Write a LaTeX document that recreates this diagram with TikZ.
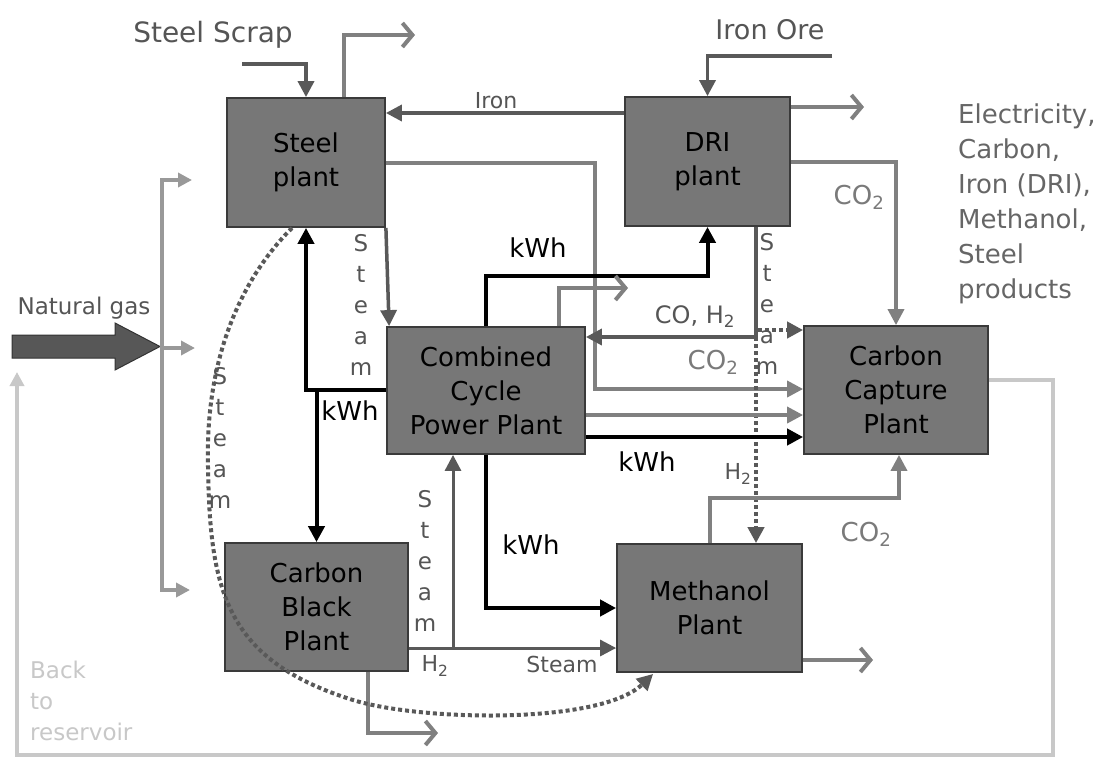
\documentclass[tikz,border=0pt]{standalone}
\usepackage{fontspec}
\setmainfont{DejaVu Sans}
\usetikzlibrary{arrows.meta,calc}
\definecolor{boxfill}{HTML}{777777}
\definecolor{boxline}{HTML}{3A3A3A}
\definecolor{lndk}{HTML}{595959}
\definecolor{lnmd}{HTML}{808080}
\definecolor{lnlt}{HTML}{999999}
\definecolor{lnres}{HTML}{C8C8C8}
\definecolor{txdk}{HTML}{555555}
\definecolor{txco}{HTML}{7A7A7A}
\definecolor{txprod}{HTML}{666666}
\definecolor{ngfill}{HTML}{575757}
\begin{document}
\begin{tikzpicture}[x=1pt,y=-1pt,
 plant/.style={draw=boxline,fill=boxfill,line width=1.8pt,align=center,inner sep=0pt,text=black,font=\fontsize{26}{34}\selectfont},
 tipT/.style={-{Triangle[length=16pt,width=16pt]}},
 gdk/.style={draw=lndk,line width=3.5pt,tipT},
 gmd/.style={draw=lnmd,line width=3.5pt,tipT},
 blk/.style={draw=black,line width=4pt,tipT},
 prod/.style={draw=lnmd,line width=4pt,-{Straight Barb[length=10pt,width=24pt,line width=4pt]}},
 ngl/.style={draw=lnlt,line width=3.5pt},
 ngtip/.style={-{Triangle[length=14pt,width=14pt]}},
 ngboth/.style={{Triangle[length=14pt,width=14pt]}-{Triangle[length=14pt,width=14pt]}},
 resl/.style={draw=lnres,line width=3.5pt,-{Triangle[length=14pt,width=14pt]}},
 dotfl/.style={draw=lndk,line width=4pt,dash pattern=on 4pt off 3pt,-{Triangle[length=16pt,width=16pt]}},
 lab/.style={inner sep=0pt,text=txdk},
 big/.style={lab,font=\fontsize{27}{34}\selectfont},
 small/.style={lab,font=\fontsize{22}{28}\selectfont},
 co/.style={inner sep=0pt,text=txco,font=\fontsize{26}{32}\selectfont},
 kwh/.style={inner sep=0pt,text=black,font=\fontsize{26}{32}\selectfont},
 vsteam/.style={lab,align=center,font=\fontsize{23}{31}\selectfont}
]
\fill[white] (0,0) rectangle (1113,756);
\useasboundingbox (0,0) rectangle (1113,756);

% plants
\node[plant,minimum width=158pt,minimum height=129pt] (steel) at (306,162.5) {Steel\\plant};
\node[plant,minimum width=165pt,minimum height=129pt] (dri) at (707.5,161.5) {DRI\\plant};
\node[plant,minimum width=198pt,minimum height=127pt] (ccpp) at (486,390.5) {Combined\\Cycle\\Power Plant};
\node[plant,minimum width=184pt,minimum height=128pt] (ccp) at (896,390) {Carbon\\Capture\\Plant};
\node[plant,minimum width=183pt,minimum height=128pt] (cbp) at (316.5,607) {Carbon\\Black\\Plant};
\node[plant,minimum width=185pt,minimum height=128pt] (mp) at (709.5,608) {Methanol\\Plant};

% free ends
\coordinate (scrapin) at (242,64);
\coordinate (steelout) at (415,35);
\coordinate (orein) at (832,56);
\coordinate (driout) at (864,107);
\coordinate (ccppout) at (628,288);
\coordinate (cbout) at (438,733);
\coordinate (mpout) at (873,660);
\coordinate (split) at (756,337);
\coordinate (split2) at (758,330);
\coordinate (ngj) at (162,180);
\coordinate (ngtop) at (192,180);
\coordinate (ngbot) at (190,590);
\coordinate (ngmid) at (160,348);
\coordinate (ngmidend) at (195,348);
\coordinate (resin) at (17,372);

% natural gas
\draw[draw=black!80,fill=ngfill,line width=1pt] (12,335) -- (115,335) -- (115,323) -- (160,346.5) -- (115,370) -- (115,358) -- (12,358) -- cycle;
\draw[ngl,ngboth] (ngtop) -- (ngj) -- (162,590) -- (ngbot);
\draw[ngl,ngtip] (ngmid) -- (ngmidend);

% reservoir return
\draw[resl] (ccp.east |- 0,380) -- (1053,380) -- (1053,755) -- (17,755) -- (resin);

% steel plant flows
\draw[gdk] (scrapin) -| (steel.north);
\draw[prod] (steel.north -| 344,0) |- (steelout);
\draw[gdk] (dri.west |- 0,113) -- (steel.east |- 0,113);
\draw[gdk] (steel.south east) -- ($(ccpp.north west)+(3,0)$);
\draw[gmd] (steel.east |- 0,163) -| (595,389) -- (ccp.west |- 0,389);

% DRI flows
\draw[gdk] (orein) -| (dri.north);
\draw[prod] (dri.east |- driout) -- (driout);
\draw[gmd] (dri.east |- 0,162) -| (ccp.north);
\draw[gdk] (dri.south -| split) -- (split) -- (ccpp.east |- split);
\draw[dotfl] (split) -- (mp.north -| split);
\draw[dotfl] (split2) -- (ccp.west |- split2);

% CCPP flows
\draw[blk] (ccpp.north) |- (dri.south |- 0,276) -- (dri.south);
\draw[prod] (ccpp.north -| 559,0) |- (ccppout);
\draw[gmd] (ccpp.east |- 0,415) -- (ccp.west |- 0,415);
\draw[blk] (ccpp.east |- 0,437) -- (ccp.west |- 0,437);
\draw[blk] (ccpp.west |- 0,390) -- (steel.south |- 0,390) -- (steel.south);
\draw[blk] (cbp.north |- 0,388.5) -- (cbp.north);
\draw[blk] (ccpp.south) |- (mp.west);

% carbon black flows
\draw[gdk,line width=3pt] (cbp.east |- 0,648) -- (mp.west |- 0,648);
\draw[gdk,line width=3pt] (453,649) -- (ccpp.south -| 453,0);
\draw[prod] (cbp.south -| 368,0) |- (cbout);

% methanol flows
\draw[prod] (mp.east |- mpout) -- (mpout);
\draw[gmd] (mp.north -| 710,0) |- (899,498) -- (ccp.south -| 899,0);

% dotted steam curve
\draw[dotfl] ($(steel.south)+(-14,0)$) .. controls (240,280) and (205,360) .. (208,467)
  .. controls (210,590) and (225,660) .. (353,700)
  .. controls (420,721) and (600,725) .. ($(mp.south west)+(37,1)$);

% labels
\node[big,font=\fontsize{28}{34}\selectfont] (lscrap) at (213,35) {Steel Scrap};
\node[big] (lore) at (770,30) {Iron Ore};
\node[small] (liron) at (496,101) {Iron};
\node[lab,font=\fontsize{23}{28}\selectfont] (lng) at (84,308) {Natural gas};
\node[inner sep=0pt,text=lnres,anchor=north west,align=left,font=\fontsize{23}{31}\selectfont] (lback) at (30,661) {Back\\to\\reservoir};
\node[inner sep=0pt,text=txprod,anchor=north west,align=left,font=\fontsize{26}{35}\selectfont] (lprod) at (958,104) {Electricity,\\Carbon,\\Iron (DRI),\\Methanol,\\Steel\\products};
\node[co] (lco1) at (859,197) {CO\textsubscript{2}};
\node[co] (lco2) at (713,362) {CO\textsubscript{2}};
\node[co] (lco3) at (866,534) {CO\textsubscript{2}};
\node[lab,font=\fontsize{24}{30}\selectfont] (lcoh) at (695,317) {CO, H\textsubscript{2}};
\node[small] (lh2a) at (738,474) {H\textsubscript{2}};
\node[small] (lh2b) at (435,666) {H\textsubscript{2}};
\node[small] (lsteamb) at (562,664) {Steam};
\node[kwh] (k1) at (538,248) {kWh};
\node[kwh] (k2) at (350,411) {kWh};
\node[kwh] (k3) at (647,462) {kWh};
\node[kwh] (k4) at (531,545) {kWh};
\node[vsteam] (vs1) at (361,305) {S\\t\\e\\a\\m};
\node[vsteam] (vs2) at (767,304) {S\\t\\e\\a\\m};
\node[vsteam,text=txdk] (vs3) at (220,438) {S\\t\\e\\a\\m};
\node[vsteam] (vs4) at (425,561) {S\\t\\e\\a\\m};
\end{tikzpicture}
\end{document}
